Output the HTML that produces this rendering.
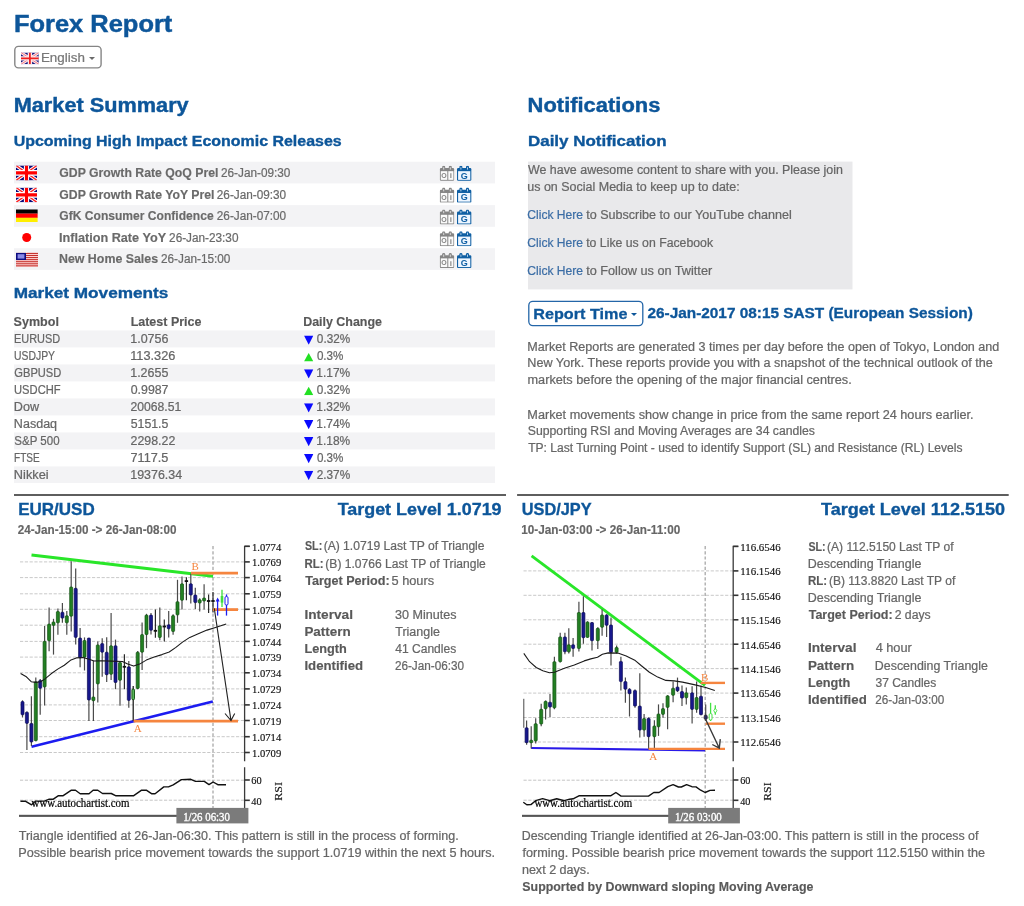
<!DOCTYPE html>
<html lang="en"><head><meta charset="utf-8"><title>Forex Report</title>
<style>
html,body{margin:0;padding:0;background:#fff}
body{width:1024px;height:906px;position:relative;overflow:hidden;font-family:"Liberation Sans", sans-serif;color:#666}
.t{position:absolute;left:0;top:0;white-space:pre;transform-origin:0 0;display:block}
.bx{position:absolute}
</style></head><body>
<svg class="bx" style="left:0;top:150px" width="1024" height="360" viewBox="0 150 1024 360"><rect x="14" y="161.7" width="481" height="21.7" fill="#f3f3f5"/><rect x="14" y="205.1" width="481" height="21.7" fill="#f3f3f5"/><rect x="14" y="248.2" width="481" height="21.7" fill="#f3f3f5"/><rect x="14" y="330.4" width="481" height="17" fill="#f3f3f5"/><rect x="14" y="364.4" width="481" height="17" fill="#f3f3f5"/><rect x="14" y="398.4" width="481" height="17" fill="#f3f3f5"/><rect x="14" y="432.4" width="481" height="17" fill="#f3f3f5"/><rect x="14" y="466.4" width="481" height="16.6" fill="#f3f3f5"/><rect x="528" y="161.6" width="324.5" height="127.8" fill="#e9e9eb"/><rect x="14" y="494" width="492" height="2" fill="#5e5e5e"/><rect x="517.1" y="494" width="491.6" height="2" fill="#5e5e5e"/></svg>
<!-- language button -->
<svg class="bx" style="left:10px;top:42px" width="100" height="30" viewBox="10 42 100 30"><rect x="14.8" y="46.4" width="86.3" height="21.5" rx="3.6" fill="#fff" stroke="#858585" stroke-width="1.4"/></svg>
<div class="bx" style="left:88.5px;top:56.7px;width:0;height:0;border-left:3.1px solid transparent;border-right:3.1px solid transparent;border-top:3.5px solid #6a6a6a"></div>
<!-- report time button -->
<svg class="bx" style="left:520px;top:296px" width="130" height="36" viewBox="520 296 130 36"><rect x="528.8" y="301.4" width="114" height="24.2" rx="4" fill="#fff" stroke="#2466a8" stroke-width="1.3"/></svg>
<div class="bx" style="left:631.2px;top:313.2px;width:0;height:0;border-left:3.7px solid transparent;border-right:3.7px solid transparent;border-top:3.8px solid #0d569a"></div>
<div class="t" style="font-size:24px;line-height:27px;color:#0d569a;font-weight:700;-webkit-text-stroke:0.45px #0d569a;transform:translate(13.88px,10px) scaleX(1.0608);">Forex Report</div>
<div class="t" style="font-size:13px;line-height:15px;color:#777;-webkit-text-stroke:0.22px #777;transform:translate(40.90px,50px) scaleX(1.0307);">English</div>
<div class="t" style="font-size:19.5px;line-height:22px;color:#0d569a;font-weight:700;-webkit-text-stroke:0.4px #0d569a;transform:translate(13.69px,94px) scaleX(1.1136);">Market Summary</div>
<div class="t" style="font-size:15px;line-height:17px;color:#0d569a;font-weight:700;-webkit-text-stroke:0.35px #0d569a;transform:translate(13.67px,132px) scaleX(1.0634);">Upcoming High Impact Economic Releases</div>
<div class="t" style="font-size:12px;line-height:14px;color:#6a6a6a;font-weight:700;-webkit-text-stroke:0.15px #6a6a6a;transform:translate(59.29px,166px) scaleX(1.0214);">GDP Growth Rate QoQ Prel</div>
<div class="t" style="font-size:12px;line-height:14px;color:#6a6a6a;-webkit-text-stroke:0.22px #6a6a6a;transform:translate(220.99px,166px) scaleX(0.9810);">26-Jan-09:30</div>
<div class="t" style="font-size:12px;line-height:14px;color:#6a6a6a;font-weight:700;-webkit-text-stroke:0.15px #6a6a6a;transform:translate(59.29px,188px) scaleX(1.0219);">GDP Growth Rate YoY Prel</div>
<div class="t" style="font-size:12px;line-height:14px;color:#6a6a6a;-webkit-text-stroke:0.22px #6a6a6a;transform:translate(216.79px,188px) scaleX(0.9810);">26-Jan-09:30</div>
<div class="t" style="font-size:12px;line-height:14px;color:#6a6a6a;font-weight:700;-webkit-text-stroke:0.15px #6a6a6a;transform:translate(59.30px,209px) scaleX(1.0063);">GfK Consumer Confidence</div>
<div class="t" style="font-size:12px;line-height:14px;color:#6a6a6a;-webkit-text-stroke:0.22px #6a6a6a;transform:translate(216.79px,209px) scaleX(0.9810);">26-Jan-07:00</div>
<div class="t" style="font-size:12px;line-height:14px;color:#6a6a6a;font-weight:700;-webkit-text-stroke:0.15px #6a6a6a;transform:translate(58.94px,231px) scaleX(1.0551);">Inflation Rate YoY</div>
<div class="t" style="font-size:12px;line-height:14px;color:#6a6a6a;-webkit-text-stroke:0.22px #6a6a6a;transform:translate(169.09px,231px) scaleX(0.9810);">26-Jan-23:30</div>
<div class="t" style="font-size:12px;line-height:14px;color:#6a6a6a;font-weight:700;-webkit-text-stroke:0.15px #6a6a6a;transform:translate(58.96px,252px) scaleX(1.0322);">New Home Sales</div>
<div class="t" style="font-size:12px;line-height:14px;color:#6a6a6a;-webkit-text-stroke:0.22px #6a6a6a;transform:translate(160.99px,252px) scaleX(0.9810);">26-Jan-15:00</div>
<div class="t" style="font-size:15px;line-height:17px;color:#0d569a;font-weight:700;-webkit-text-stroke:0.35px #0d569a;transform:translate(13.65px,284px) scaleX(1.1451);">Market Movements</div>
<div class="t" style="font-size:12px;line-height:14px;color:#595959;font-weight:700;-webkit-text-stroke:0.15px #595959;transform:translate(13.61px,315px) scaleX(1.0445);">Symbol</div>
<div class="t" style="font-size:12px;line-height:14px;color:#595959;font-weight:700;-webkit-text-stroke:0.15px #595959;transform:translate(130.65px,315px) scaleX(1.0402);">Latest Price</div>
<div class="t" style="font-size:12px;line-height:14px;color:#595959;font-weight:700;-webkit-text-stroke:0.15px #595959;transform:translate(303.16px,315px) scaleX(1.0359);">Daily Change</div>
<div class="t" style="font-size:12px;line-height:14px;color:#666;-webkit-text-stroke:0.22px #666;transform:translate(13.99px,332px) scaleX(0.9120);">EURUSD</div>
<div class="t" style="font-size:12px;line-height:14px;color:#666;-webkit-text-stroke:0.22px #666;transform:translate(130.22px,332px) scaleX(1.0401);">1.0756</div>
<div class="t" style="font-size:12px;line-height:14px;color:#666;-webkit-text-stroke:0.22px #666;transform:translate(316.87px,332px) scaleX(0.9793);">0.32%</div>
<div class="t" style="font-size:12px;line-height:14px;color:#666;-webkit-text-stroke:0.22px #666;transform:translate(14.09px,349px) scaleX(0.8650);">USDJPY</div>
<div class="t" style="font-size:12px;line-height:14px;color:#666;-webkit-text-stroke:0.22px #666;transform:translate(130.20px,349px) scaleX(1.0634);">113.326</div>
<div class="t" style="font-size:12px;line-height:14px;color:#666;-webkit-text-stroke:0.22px #666;transform:translate(316.88px,349px) scaleX(0.9698);">0.3%</div>
<div class="t" style="font-size:12px;line-height:14px;color:#666;-webkit-text-stroke:0.22px #666;transform:translate(14.32px,366px) scaleX(0.9273);">GBPUSD</div>
<div class="t" style="font-size:12px;line-height:14px;color:#666;-webkit-text-stroke:0.22px #666;transform:translate(130.23px,366px) scaleX(1.0383);">1.2655</div>
<div class="t" style="font-size:12px;line-height:14px;color:#666;-webkit-text-stroke:0.22px #666;transform:translate(316.37px,366px) scaleX(0.9943);">1.17%</div>
<div class="t" style="font-size:12px;line-height:14px;color:#666;-webkit-text-stroke:0.22px #666;transform:translate(14.03px,383px) scaleX(0.9316);">USDCHF</div>
<div class="t" style="font-size:12px;line-height:14px;color:#666;-webkit-text-stroke:0.22px #666;transform:translate(130.75px,383px) scaleX(1.0274);">0.9987</div>
<div class="t" style="font-size:12px;line-height:14px;color:#666;-webkit-text-stroke:0.22px #666;transform:translate(316.87px,383px) scaleX(0.9793);">0.32%</div>
<div class="t" style="font-size:12px;line-height:14px;color:#666;-webkit-text-stroke:0.22px #666;transform:translate(13.85px,400px) scaleX(1.0522);">Dow</div>
<div class="t" style="font-size:12px;line-height:14px;color:#666;-webkit-text-stroke:0.22px #666;transform:translate(130.57px,400px) scaleX(1.0128);">20068.51</div>
<div class="t" style="font-size:12px;line-height:14px;color:#666;-webkit-text-stroke:0.22px #666;transform:translate(316.37px,400px) scaleX(0.9943);">1.32%</div>
<div class="t" style="font-size:12px;line-height:14px;color:#666;-webkit-text-stroke:0.22px #666;transform:translate(13.86px,417px) scaleX(1.0448);">Nasdaq</div>
<div class="t" style="font-size:12px;line-height:14px;color:#666;-webkit-text-stroke:0.22px #666;transform:translate(130.69px,417px) scaleX(1.0256);">5151.5</div>
<div class="t" style="font-size:12px;line-height:14px;color:#666;-webkit-text-stroke:0.22px #666;transform:translate(316.37px,417px) scaleX(0.9943);">1.74%</div>
<div class="t" style="font-size:12px;line-height:14px;color:#666;-webkit-text-stroke:0.22px #666;transform:translate(14.36px,434px) scaleX(0.9583);">S&amp;P 500</div>
<div class="t" style="font-size:12px;line-height:14px;color:#666;-webkit-text-stroke:0.22px #666;transform:translate(130.56px,434px) scaleX(1.0303);">2298.22</div>
<div class="t" style="font-size:12px;line-height:14px;color:#666;-webkit-text-stroke:0.22px #666;transform:translate(316.37px,434px) scaleX(0.9943);">1.18%</div>
<div class="t" style="font-size:12px;line-height:14px;color:#666;-webkit-text-stroke:0.22px #666;transform:translate(14.06px,451px) scaleX(0.8360);">FTSE</div>
<div class="t" style="font-size:12px;line-height:14px;color:#666;-webkit-text-stroke:0.22px #666;transform:translate(130.54px,451px) scaleX(1.0551);">7117.5</div>
<div class="t" style="font-size:12px;line-height:14px;color:#666;-webkit-text-stroke:0.22px #666;transform:translate(316.88px,451px) scaleX(0.9698);">0.3%</div>
<div class="t" style="font-size:12px;line-height:14px;color:#666;-webkit-text-stroke:0.22px #666;transform:translate(13.84px,468px) scaleX(1.0623);">Nikkei</div>
<div class="t" style="font-size:12px;line-height:14px;color:#666;-webkit-text-stroke:0.22px #666;transform:translate(130.23px,468px) scaleX(1.0359);">19376.34</div>
<div class="t" style="font-size:12px;line-height:14px;color:#666;-webkit-text-stroke:0.22px #666;transform:translate(316.68px,468px) scaleX(0.9848);">2.37%</div>
<div class="t" style="font-size:19.5px;line-height:22px;color:#0d569a;font-weight:700;-webkit-text-stroke:0.4px #0d569a;transform:translate(527.62px,94px) scaleX(1.1241);">Notifications</div>
<div class="t" style="font-size:15px;line-height:17px;color:#0d569a;font-weight:700;-webkit-text-stroke:0.35px #0d569a;transform:translate(527.97px,132px) scaleX(1.1308);">Daily Notification</div>
<div class="t" style="font-size:12px;line-height:14px;color:#666;-webkit-text-stroke:0.22px #666;transform:translate(527.94px,163px) scaleX(1.0361);">We have awesome content to share with you. Please join</div>
<div class="t" style="font-size:12px;line-height:14px;color:#666;-webkit-text-stroke:0.22px #666;transform:translate(527.22px,180px) scaleX(1.0410);">us on Social Media to keep up to date:</div>
<div class="t" style="font-size:12px;line-height:14px;color:#3c6ea6;-webkit-text-stroke:0.22px #3c6ea6;transform:translate(527.37px,208px) scaleX(1.0058);">Click Here</div>
<div class="t" style="font-size:12px;line-height:14px;color:#666;-webkit-text-stroke:0.22px #666;transform:translate(586.20px,208px) scaleX(1.0472);">to Subscribe to our YouTube channel</div>
<div class="t" style="font-size:12px;line-height:14px;color:#3c6ea6;-webkit-text-stroke:0.22px #3c6ea6;transform:translate(527.37px,236px) scaleX(1.0058);">Click Here</div>
<div class="t" style="font-size:12px;line-height:14px;color:#666;-webkit-text-stroke:0.22px #666;transform:translate(586.21px,236px) scaleX(1.0220);">to Like us on Facebook</div>
<div class="t" style="font-size:12px;line-height:14px;color:#3c6ea6;-webkit-text-stroke:0.22px #3c6ea6;transform:translate(527.37px,264px) scaleX(1.0058);">Click Here</div>
<div class="t" style="font-size:12px;line-height:14px;color:#666;-webkit-text-stroke:0.22px #666;transform:translate(586.20px,264px) scaleX(1.0571);">to Follow us on Twitter</div>
<div class="t" style="font-size:15px;line-height:17px;color:#0d569a;font-weight:700;-webkit-text-stroke:0.3px #0d569a;transform:translate(533.22px,305px) scaleX(1.0795);">Report Time</div>
<div class="t" style="font-size:14.5px;line-height:16px;color:#0d569a;font-weight:700;-webkit-text-stroke:0.3px #0d569a;transform:translate(647.47px,305px) scaleX(1.0595);">26-Jan-2017 08:15 SAST (European Session)</div>
<div class="t" style="font-size:12px;line-height:14px;color:#666;-webkit-text-stroke:0.22px #666;transform:translate(527.35px,340px) scaleX(1.0471);">Market Reports are generated 3 times per day before the open of Tokyo, London and</div>
<div class="t" style="font-size:12px;line-height:14px;color:#666;-webkit-text-stroke:0.22px #666;transform:translate(527.35px,356px) scaleX(1.0515);">New York. These reports provide you with a snapshot of the technical outlook of the</div>
<div class="t" style="font-size:12px;line-height:14px;color:#666;-webkit-text-stroke:0.22px #666;transform:translate(527.54px,373px) scaleX(1.0587);">markets before the opening of the major financial centres.</div>
<div class="t" style="font-size:12px;line-height:14px;color:#666;-webkit-text-stroke:0.22px #666;transform:translate(527.34px,408px) scaleX(1.0571);">Market movements show change in price from the same report 24 hours earlier.</div>
<div class="t" style="font-size:12px;line-height:14px;color:#666;-webkit-text-stroke:0.22px #666;transform:translate(527.83px,424px) scaleX(1.0184);">Supporting RSI and Moving Averages are 34 candles</div>
<div class="t" style="font-size:12px;line-height:14px;color:#666;-webkit-text-stroke:0.22px #666;transform:translate(528.15px,441px) scaleX(1.0049);">TP: Last Turning Point - used to identify Support (SL) and Resistance (RL) Levels</div>
<div class="t" style="font-size:17px;line-height:19px;color:#0d569a;font-weight:700;-webkit-text-stroke:0.35px #0d569a;transform:translate(18.17px,500px) scaleX(1.0002);">EUR/USD</div>
<div class="t" style="font-size:17px;line-height:19px;color:#0d569a;font-weight:700;-webkit-text-stroke:0.35px #0d569a;transform:translate(337.70px,500px) scaleX(1.0529);">Target Level 1.0719</div>
<div class="t" style="font-size:12px;line-height:14px;color:#666;font-weight:700;-webkit-text-stroke:0.15px #666;transform:translate(17.67px,523px) scaleX(0.9736);">24-Jan-15:00 -&gt; 26-Jan-08:00</div>
<div class="t" style="font-size:12px;line-height:14px;color:#595959;font-weight:700;-webkit-text-stroke:0.15px #595959;transform:translate(304.97px,539px) scaleX(0.8926);">SL:</div>
<div class="t" style="font-size:12px;line-height:14px;color:#666;-webkit-text-stroke:0.22px #666;transform:translate(323.64px,539px) scaleX(1.0077);">(A) 1.0719 Last TP of Triangle</div>
<div class="t" style="font-size:12px;line-height:14px;color:#595959;font-weight:700;-webkit-text-stroke:0.15px #595959;transform:translate(304.53px,557px) scaleX(0.9522);">RL:</div>
<div class="t" style="font-size:12px;line-height:14px;color:#666;-webkit-text-stroke:0.22px #666;transform:translate(325.35px,557px) scaleX(1.0052);">(B) 1.0766 Last TP of Triangle</div>
<div class="t" style="font-size:12px;line-height:14px;color:#595959;font-weight:700;-webkit-text-stroke:0.15px #595959;transform:translate(305.17px,574px) scaleX(1.0494);">Target Period:</div>
<div class="t" style="font-size:12px;line-height:14px;color:#666;-webkit-text-stroke:0.22px #666;transform:translate(391.47px,574px) scaleX(1.0650);">5 hours</div>
<div class="t" style="font-size:12px;line-height:14px;color:#595959;font-weight:700;-webkit-text-stroke:0.15px #595959;transform:translate(304.38px,608px) scaleX(1.1373);">Interval</div>
<div class="t" style="font-size:12px;line-height:14px;color:#666;-webkit-text-stroke:0.22px #666;transform:translate(395.04px,608px) scaleX(1.0465);">30 Minutes</div>
<div class="t" style="font-size:12px;line-height:14px;color:#595959;font-weight:700;-webkit-text-stroke:0.15px #595959;transform:translate(304.39px,625px) scaleX(1.1195);">Pattern</div>
<div class="t" style="font-size:12px;line-height:14px;color:#666;-webkit-text-stroke:0.22px #666;transform:translate(395.24px,625px) scaleX(1.0421);">Triangle</div>
<div class="t" style="font-size:12px;line-height:14px;color:#595959;font-weight:700;-webkit-text-stroke:0.15px #595959;transform:translate(304.44px,642px) scaleX(1.0589);">Length</div>
<div class="t" style="font-size:12px;line-height:14px;color:#666;-webkit-text-stroke:0.22px #666;transform:translate(395.25px,642px) scaleX(1.0033);">41 Candles</div>
<div class="t" style="font-size:12px;line-height:14px;color:#595959;font-weight:700;-webkit-text-stroke:0.15px #595959;transform:translate(304.41px,659px) scaleX(1.0995);">Identified</div>
<div class="t" style="font-size:12px;line-height:14px;color:#666;-webkit-text-stroke:0.22px #666;transform:translate(394.89px,659px) scaleX(0.9781);">26-Jan-06:30</div>
<div class="t" style="font-size:12px;line-height:14px;color:#666;-webkit-text-stroke:0.22px #666;transform:translate(18.74px,829px) scaleX(1.0419);">Triangle identified at 26-Jan-06:30. This pattern is still in the process of forming.</div>
<div class="t" style="font-size:12px;line-height:14px;color:#666;-webkit-text-stroke:0.22px #666;transform:translate(18.25px,846px) scaleX(1.0544);">Possible bearish price movement towards the support 1.0719 within the next 5 hours.</div>
<div class="t" style="font-size:17px;line-height:19px;color:#0d569a;font-weight:700;-webkit-text-stroke:0.35px #0d569a;transform:translate(521.74px,500px) scaleX(0.9594);">USD/JPY</div>
<div class="t" style="font-size:17px;line-height:19px;color:#0d569a;font-weight:700;-webkit-text-stroke:0.35px #0d569a;transform:translate(821.00px,500px) scaleX(1.0603);">Target Level 112.5150</div>
<div class="t" style="font-size:12px;line-height:14px;color:#666;font-weight:700;-webkit-text-stroke:0.15px #666;transform:translate(521.27px,523px) scaleX(0.9784);">10-Jan-03:00 -&gt; 26-Jan-11:00</div>
<div class="t" style="font-size:12px;line-height:14px;color:#595959;font-weight:700;-webkit-text-stroke:0.15px #595959;transform:translate(808.47px,540px) scaleX(0.8870);">SL:</div>
<div class="t" style="font-size:12px;line-height:14px;color:#666;-webkit-text-stroke:0.22px #666;transform:translate(827.05px,540px) scaleX(1.0034);">(A) 112.5150 Last TP of</div>
<div class="t" style="font-size:12px;line-height:14px;color:#666;-webkit-text-stroke:0.22px #666;transform:translate(807.76px,557px) scaleX(1.0382);">Descending Triangle</div>
<div class="t" style="font-size:12px;line-height:14px;color:#595959;font-weight:700;-webkit-text-stroke:0.15px #595959;transform:translate(808.02px,574px) scaleX(0.9578);">RL:</div>
<div class="t" style="font-size:12px;line-height:14px;color:#666;-webkit-text-stroke:0.22px #666;transform:translate(828.95px,574px) scaleX(1.0018);">(B) 113.8820 Last TP of</div>
<div class="t" style="font-size:12px;line-height:14px;color:#666;-webkit-text-stroke:0.22px #666;transform:translate(807.76px,591px) scaleX(1.0382);">Descending Triangle</div>
<div class="t" style="font-size:12px;line-height:14px;color:#595959;font-weight:700;-webkit-text-stroke:0.15px #595959;transform:translate(808.67px,608px) scaleX(1.0431);">Target Period:</div>
<div class="t" style="font-size:12px;line-height:14px;color:#666;-webkit-text-stroke:0.22px #666;transform:translate(894.66px,608px) scaleX(1.0200);">2 days</div>
<div class="t" style="font-size:12px;line-height:14px;color:#595959;font-weight:700;-webkit-text-stroke:0.15px #595959;transform:translate(807.88px,641px) scaleX(1.1373);">Interval</div>
<div class="t" style="font-size:12px;line-height:14px;color:#666;-webkit-text-stroke:0.22px #666;transform:translate(875.63px,641px) scaleX(1.0637);">4 hour</div>
<div class="t" style="font-size:12px;line-height:14px;color:#595959;font-weight:700;-webkit-text-stroke:0.15px #595959;transform:translate(807.89px,659px) scaleX(1.1195);">Pattern</div>
<div class="t" style="font-size:12px;line-height:14px;color:#666;-webkit-text-stroke:0.22px #666;transform:translate(874.87px,659px) scaleX(1.0327);">Descending Triangle</div>
<div class="t" style="font-size:12px;line-height:14px;color:#595959;font-weight:700;-webkit-text-stroke:0.15px #595959;transform:translate(807.94px,676px) scaleX(1.0589);">Length</div>
<div class="t" style="font-size:12px;line-height:14px;color:#666;-webkit-text-stroke:0.22px #666;transform:translate(875.46px,676px) scaleX(1.0015);">37 Candles</div>
<div class="t" style="font-size:12px;line-height:14px;color:#595959;font-weight:700;-webkit-text-stroke:0.15px #595959;transform:translate(807.90px,693px) scaleX(1.1034);">Identified</div>
<div class="t" style="font-size:12px;line-height:14px;color:#666;-webkit-text-stroke:0.22px #666;transform:translate(875.29px,693px) scaleX(0.9767);">26-Jan-03:00</div>
<div class="t" style="font-size:12px;line-height:14px;color:#666;-webkit-text-stroke:0.22px #666;transform:translate(521.72px,829px) scaleX(1.0333);">Descending Triangle identified at 26-Jan-03:00. This pattern is still in the process of</div>
<div class="t" style="font-size:12px;line-height:14px;color:#666;-webkit-text-stroke:0.22px #666;transform:translate(522.55px,846px) scaleX(1.0544);">forming. Possible bearish price movement towards the support 112.5150 within the</div>
<div class="t" style="font-size:12px;line-height:14px;color:#666;-webkit-text-stroke:0.22px #666;transform:translate(521.90px,863px) scaleX(1.0468);">next 2 days.</div>
<div class="t" style="font-size:12px;line-height:14px;color:#595959;font-weight:700;-webkit-text-stroke:0.15px #595959;transform:translate(522.36px,880px) scaleX(1.0304);">Supported by Downward sloping Moving Average</div>
<svg class="bx" style="left:0;top:40px" width="512" height="460" viewBox="0 40 512 460">
<!-- flags -->
<svg x="21" y="52.5" width="17.8" height="11.8" viewBox="0 0 60 40" preserveAspectRatio="none"><rect width="60" height="40" fill="#1a1a80"/><path d="M0,0 L60,40 M60,0 L0,40" stroke="#fbe4e8" stroke-width="10"/><path d="M0,0 L60,40 M60,0 L0,40" stroke="#f2707a" stroke-width="3"/><path d="M30,0 V40 M0,20 H60" stroke="#fde8ea" stroke-width="15"/><path d="M30,0 V40 M0,20 H60" stroke="#f02020" stroke-width="6"/></svg>
<svg x="16" y="165.4" width="21" height="15" viewBox="0 0 60 40" preserveAspectRatio="none"><defs><clipPath id="ukc165"><rect width="60" height="40" rx="3"/></clipPath></defs><g clip-path="url(#ukc165)"><rect width="60" height="40" fill="#0a0a7a"/><path d="M0,0 L60,40 M60,0 L0,40" stroke="#fff" stroke-width="9"/><path d="M0,0 L60,40 M60,0 L0,40" stroke="#f22" stroke-width="3.5"/><path d="M30,0 V40 M0,20 H60" stroke="#fff" stroke-width="15"/><path d="M30,0 V40 M0,20 H60" stroke="#f00" stroke-width="9"/></g></svg>
<svg x="16" y="187.4" width="21" height="15" viewBox="0 0 60 40" preserveAspectRatio="none"><defs><clipPath id="ukc187"><rect width="60" height="40" rx="3"/></clipPath></defs><g clip-path="url(#ukc187)"><rect width="60" height="40" fill="#0a0a7a"/><path d="M0,0 L60,40 M60,0 L0,40" stroke="#fff" stroke-width="9"/><path d="M0,0 L60,40 M60,0 L0,40" stroke="#f22" stroke-width="3.5"/><path d="M30,0 V40 M0,20 H60" stroke="#fff" stroke-width="15"/><path d="M30,0 V40 M0,20 H60" stroke="#f00" stroke-width="9"/></g></svg>
<svg x="16" y="209.3" width="21.8" height="12.8" viewBox="0 0 21.8 12.8"><rect width="21.8" height="4.4" fill="#000"/><rect y="4.3" width="21.8" height="4.3" fill="#f00"/><rect y="8.5" width="21.8" height="4.3" fill="#ffee00"/></svg>
<svg x="16" y="230" width="22" height="15" viewBox="0 0 22 15"><circle cx="10.7" cy="7.5" r="4.5" fill="#f00"/></svg>
<svg x="16" y="251.9" width="22" height="15.4" viewBox="0 0 22 15.4"><rect y="0.8" width="22" height="14.3" fill="#ffd6d6"/><rect width="11" height="1" y="0" fill="#fff"/><rect y="1.00" width="22" height="1.05" fill="#c4302b"/><rect y="3.07" width="22" height="1.05" fill="#c4302b"/><rect y="5.14" width="22" height="1.05" fill="#c4302b"/><rect y="7.21" width="22" height="1.05" fill="#c4302b"/><rect y="9.28" width="22" height="1.05" fill="#c4302b"/><rect y="11.35" width="22" height="1.05" fill="#c4302b"/><rect y="13.42" width="22" height="1.05" fill="#c4302b"/><rect y="1" width="10" height="7.1" fill="#0c0c80"/><rect x="1.6" y="2.3" width="6.8" height="4.4" fill="#8a8ae6"/></svg>
<!-- calendar icons -->
<svg x="439.6" y="165.8" width="15" height="15.1" viewBox="0 0 15 16" preserveAspectRatio="none"><rect x="2.6" y="0" width="3" height="4.5" rx="1.4" fill="#858585"/><rect x="9.2" y="0" width="3" height="4.5" rx="1.4" fill="#858585"/><rect x="0.2" y="2.3" width="14.4" height="13.6" rx="1.3" fill="#858585"/><rect x="3.6" y="1.6" width="1" height="2.4" fill="#fafafa" opacity="0.75"/><rect x="10.2" y="1.6" width="1" height="2.4" fill="#fafafa" opacity="0.75"/><rect x="1.2" y="5.7" width="6.5" height="9.2" fill="#fafafa"/><rect x="8.7" y="5.7" width="5.1" height="9.2" fill="#fafafa"/><text x="4.5" y="13" font-family="Liberation Sans, sans-serif" font-size="7" font-weight="700" text-anchor="middle" fill="#858585">O</text><text x="11.2" y="13.3" font-family="Liberation Sans, sans-serif" font-size="8" font-weight="700" text-anchor="middle" fill="#858585">i</text></svg>
<svg x="456.8" y="165.8" width="15" height="15.1" viewBox="0 0 15 16" preserveAspectRatio="none"><rect x="2.6" y="0" width="3" height="4.5" rx="1.4" fill="#0f5fa3"/><rect x="9.2" y="0" width="3" height="4.5" rx="1.4" fill="#0f5fa3"/><rect x="0.2" y="2.3" width="14.4" height="13.6" rx="1.3" fill="#0f5fa3"/><rect x="3.6" y="1.6" width="1" height="2.4" fill="#eef6ff" opacity="0.75"/><rect x="10.2" y="1.6" width="1" height="2.4" fill="#eef6ff" opacity="0.75"/><rect x="1.3" y="5.7" width="12.2" height="9.2" fill="#eef6ff"/><text x="7.4" y="13.6" font-family="Liberation Sans, sans-serif" font-size="9" font-weight="700" text-anchor="middle" fill="#0f5fa3">G</text></svg>
<svg x="439.6" y="187.6" width="15" height="15.1" viewBox="0 0 15 16" preserveAspectRatio="none"><rect x="2.6" y="0" width="3" height="4.5" rx="1.4" fill="#858585"/><rect x="9.2" y="0" width="3" height="4.5" rx="1.4" fill="#858585"/><rect x="0.2" y="2.3" width="14.4" height="13.6" rx="1.3" fill="#858585"/><rect x="3.6" y="1.6" width="1" height="2.4" fill="#fafafa" opacity="0.75"/><rect x="10.2" y="1.6" width="1" height="2.4" fill="#fafafa" opacity="0.75"/><rect x="1.2" y="5.7" width="6.5" height="9.2" fill="#fafafa"/><rect x="8.7" y="5.7" width="5.1" height="9.2" fill="#fafafa"/><text x="4.5" y="13" font-family="Liberation Sans, sans-serif" font-size="7" font-weight="700" text-anchor="middle" fill="#858585">O</text><text x="11.2" y="13.3" font-family="Liberation Sans, sans-serif" font-size="8" font-weight="700" text-anchor="middle" fill="#858585">i</text></svg>
<svg x="456.8" y="187.6" width="15" height="15.1" viewBox="0 0 15 16" preserveAspectRatio="none"><rect x="2.6" y="0" width="3" height="4.5" rx="1.4" fill="#0f5fa3"/><rect x="9.2" y="0" width="3" height="4.5" rx="1.4" fill="#0f5fa3"/><rect x="0.2" y="2.3" width="14.4" height="13.6" rx="1.3" fill="#0f5fa3"/><rect x="3.6" y="1.6" width="1" height="2.4" fill="#eef6ff" opacity="0.75"/><rect x="10.2" y="1.6" width="1" height="2.4" fill="#eef6ff" opacity="0.75"/><rect x="1.3" y="5.7" width="12.2" height="9.2" fill="#eef6ff"/><text x="7.4" y="13.6" font-family="Liberation Sans, sans-serif" font-size="9" font-weight="700" text-anchor="middle" fill="#0f5fa3">G</text></svg>
<svg x="439.6" y="209.4" width="15" height="15.1" viewBox="0 0 15 16" preserveAspectRatio="none"><rect x="2.6" y="0" width="3" height="4.5" rx="1.4" fill="#858585"/><rect x="9.2" y="0" width="3" height="4.5" rx="1.4" fill="#858585"/><rect x="0.2" y="2.3" width="14.4" height="13.6" rx="1.3" fill="#858585"/><rect x="3.6" y="1.6" width="1" height="2.4" fill="#fafafa" opacity="0.75"/><rect x="10.2" y="1.6" width="1" height="2.4" fill="#fafafa" opacity="0.75"/><rect x="1.2" y="5.7" width="6.5" height="9.2" fill="#fafafa"/><rect x="8.7" y="5.7" width="5.1" height="9.2" fill="#fafafa"/><text x="4.5" y="13" font-family="Liberation Sans, sans-serif" font-size="7" font-weight="700" text-anchor="middle" fill="#858585">O</text><text x="11.2" y="13.3" font-family="Liberation Sans, sans-serif" font-size="8" font-weight="700" text-anchor="middle" fill="#858585">i</text></svg>
<svg x="456.8" y="209.4" width="15" height="15.1" viewBox="0 0 15 16" preserveAspectRatio="none"><rect x="2.6" y="0" width="3" height="4.5" rx="1.4" fill="#0f5fa3"/><rect x="9.2" y="0" width="3" height="4.5" rx="1.4" fill="#0f5fa3"/><rect x="0.2" y="2.3" width="14.4" height="13.6" rx="1.3" fill="#0f5fa3"/><rect x="3.6" y="1.6" width="1" height="2.4" fill="#eef6ff" opacity="0.75"/><rect x="10.2" y="1.6" width="1" height="2.4" fill="#eef6ff" opacity="0.75"/><rect x="1.3" y="5.7" width="12.2" height="9.2" fill="#eef6ff"/><text x="7.4" y="13.6" font-family="Liberation Sans, sans-serif" font-size="9" font-weight="700" text-anchor="middle" fill="#0f5fa3">G</text></svg>
<svg x="439.6" y="231.2" width="15" height="15.1" viewBox="0 0 15 16" preserveAspectRatio="none"><rect x="2.6" y="0" width="3" height="4.5" rx="1.4" fill="#858585"/><rect x="9.2" y="0" width="3" height="4.5" rx="1.4" fill="#858585"/><rect x="0.2" y="2.3" width="14.4" height="13.6" rx="1.3" fill="#858585"/><rect x="3.6" y="1.6" width="1" height="2.4" fill="#fafafa" opacity="0.75"/><rect x="10.2" y="1.6" width="1" height="2.4" fill="#fafafa" opacity="0.75"/><rect x="1.2" y="5.7" width="6.5" height="9.2" fill="#fafafa"/><rect x="8.7" y="5.7" width="5.1" height="9.2" fill="#fafafa"/><text x="4.5" y="13" font-family="Liberation Sans, sans-serif" font-size="7" font-weight="700" text-anchor="middle" fill="#858585">O</text><text x="11.2" y="13.3" font-family="Liberation Sans, sans-serif" font-size="8" font-weight="700" text-anchor="middle" fill="#858585">i</text></svg>
<svg x="456.8" y="231.2" width="15" height="15.1" viewBox="0 0 15 16" preserveAspectRatio="none"><rect x="2.6" y="0" width="3" height="4.5" rx="1.4" fill="#0f5fa3"/><rect x="9.2" y="0" width="3" height="4.5" rx="1.4" fill="#0f5fa3"/><rect x="0.2" y="2.3" width="14.4" height="13.6" rx="1.3" fill="#0f5fa3"/><rect x="3.6" y="1.6" width="1" height="2.4" fill="#eef6ff" opacity="0.75"/><rect x="10.2" y="1.6" width="1" height="2.4" fill="#eef6ff" opacity="0.75"/><rect x="1.3" y="5.7" width="12.2" height="9.2" fill="#eef6ff"/><text x="7.4" y="13.6" font-family="Liberation Sans, sans-serif" font-size="9" font-weight="700" text-anchor="middle" fill="#0f5fa3">G</text></svg>
<svg x="439.6" y="253.0" width="15" height="15.1" viewBox="0 0 15 16" preserveAspectRatio="none"><rect x="2.6" y="0" width="3" height="4.5" rx="1.4" fill="#858585"/><rect x="9.2" y="0" width="3" height="4.5" rx="1.4" fill="#858585"/><rect x="0.2" y="2.3" width="14.4" height="13.6" rx="1.3" fill="#858585"/><rect x="3.6" y="1.6" width="1" height="2.4" fill="#fafafa" opacity="0.75"/><rect x="10.2" y="1.6" width="1" height="2.4" fill="#fafafa" opacity="0.75"/><rect x="1.2" y="5.7" width="6.5" height="9.2" fill="#fafafa"/><rect x="8.7" y="5.7" width="5.1" height="9.2" fill="#fafafa"/><text x="4.5" y="13" font-family="Liberation Sans, sans-serif" font-size="7" font-weight="700" text-anchor="middle" fill="#858585">O</text><text x="11.2" y="13.3" font-family="Liberation Sans, sans-serif" font-size="8" font-weight="700" text-anchor="middle" fill="#858585">i</text></svg>
<svg x="456.8" y="253.0" width="15" height="15.1" viewBox="0 0 15 16" preserveAspectRatio="none"><rect x="2.6" y="0" width="3" height="4.5" rx="1.4" fill="#0f5fa3"/><rect x="9.2" y="0" width="3" height="4.5" rx="1.4" fill="#0f5fa3"/><rect x="0.2" y="2.3" width="14.4" height="13.6" rx="1.3" fill="#0f5fa3"/><rect x="3.6" y="1.6" width="1" height="2.4" fill="#eef6ff" opacity="0.75"/><rect x="10.2" y="1.6" width="1" height="2.4" fill="#eef6ff" opacity="0.75"/><rect x="1.3" y="5.7" width="12.2" height="9.2" fill="#eef6ff"/><text x="7.4" y="13.6" font-family="Liberation Sans, sans-serif" font-size="9" font-weight="700" text-anchor="middle" fill="#0f5fa3">G</text></svg>
<!-- change arrows -->
<svg x="304" y="335.50" width="9.4" height="9.2" viewBox="0 0 9.4 9.2"><path d="M0,0 H9.4 L4.7,9.2 Z" fill="#0a0aff"/></svg>
<svg x="304" y="352.92" width="9.4" height="8.6" viewBox="0 0 9.4 8.6"><path d="M0,8.6 H9.4 L4.7,0 Z" fill="#22e022"/></svg>
<svg x="304" y="369.34" width="9.4" height="9.2" viewBox="0 0 9.4 9.2"><path d="M0,0 H9.4 L4.7,9.2 Z" fill="#0a0aff"/></svg>
<svg x="304" y="386.76" width="9.4" height="8.6" viewBox="0 0 9.4 8.6"><path d="M0,8.6 H9.4 L4.7,0 Z" fill="#22e022"/></svg>
<svg x="304" y="403.18" width="9.4" height="9.2" viewBox="0 0 9.4 9.2"><path d="M0,0 H9.4 L4.7,9.2 Z" fill="#0a0aff"/></svg>
<svg x="304" y="420.10" width="9.4" height="9.2" viewBox="0 0 9.4 9.2"><path d="M0,0 H9.4 L4.7,9.2 Z" fill="#0a0aff"/></svg>
<svg x="304" y="437.02" width="9.4" height="9.2" viewBox="0 0 9.4 9.2"><path d="M0,0 H9.4 L4.7,9.2 Z" fill="#0a0aff"/></svg>
<svg x="304" y="453.94" width="9.4" height="9.2" viewBox="0 0 9.4 9.2"><path d="M0,0 H9.4 L4.7,9.2 Z" fill="#0a0aff"/></svg>
<svg x="304" y="470.86" width="9.4" height="9.2" viewBox="0 0 9.4 9.2"><path d="M0,0 H9.4 L4.7,9.2 Z" fill="#0a0aff"/></svg>
</svg>
<svg class="bx" style="left:0;top:536px" width="300" height="292" viewBox="0 536 300 292" font-family="Liberation Serif, serif">
<line x1="20" x2="244" y1="561.9" y2="561.9" stroke="#c9c9c9" stroke-width="1" stroke-dasharray="3.2,1.6"/>
<line x1="20" x2="244" y1="577.6" y2="577.6" stroke="#c9c9c9" stroke-width="1" stroke-dasharray="3.2,1.6"/>
<line x1="20" x2="244" y1="593.8" y2="593.8" stroke="#c9c9c9" stroke-width="1" stroke-dasharray="3.2,1.6"/>
<line x1="20" x2="244" y1="609.3" y2="609.3" stroke="#c9c9c9" stroke-width="1" stroke-dasharray="3.2,1.6"/>
<line x1="20" x2="244" y1="625.2" y2="625.2" stroke="#c9c9c9" stroke-width="1" stroke-dasharray="3.2,1.6"/>
<line x1="20" x2="244" y1="641.4" y2="641.4" stroke="#c9c9c9" stroke-width="1" stroke-dasharray="3.2,1.6"/>
<line x1="20" x2="244" y1="657.1" y2="657.1" stroke="#c9c9c9" stroke-width="1" stroke-dasharray="3.2,1.6"/>
<line x1="20" x2="244" y1="672.8" y2="672.8" stroke="#c9c9c9" stroke-width="1" stroke-dasharray="3.2,1.6"/>
<line x1="20" x2="244" y1="688.9" y2="688.9" stroke="#c9c9c9" stroke-width="1" stroke-dasharray="3.2,1.6"/>
<line x1="20" x2="244" y1="704.9" y2="704.9" stroke="#c9c9c9" stroke-width="1" stroke-dasharray="3.2,1.6"/>
<line x1="20" x2="244" y1="720.5" y2="720.5" stroke="#c9c9c9" stroke-width="1" stroke-dasharray="3.2,1.6"/>
<line x1="20" x2="244" y1="736.7" y2="736.7" stroke="#c9c9c9" stroke-width="1" stroke-dasharray="3.2,1.6"/>
<line x1="20" x2="244" y1="752.5" y2="752.5" stroke="#c9c9c9" stroke-width="1" stroke-dasharray="3.2,1.6"/>
<line x1="20" x2="244" y1="780.2" y2="780.2" stroke="#c4c4c4" stroke-width="1" stroke-dasharray="3.2,1.6"/>
<line x1="20" x2="244" y1="800.2" y2="800.2" stroke="#c4c4c4" stroke-width="1" stroke-dasharray="3.2,1.6"/>
<line x1="213" x2="213" y1="546" y2="808" stroke="#a8a8a8" stroke-width="1.3" stroke-dasharray="3.2,2"/>
<path d="M249.6,546.3 H244.6 V761.3 M244.6,767.3 V808" fill="none" stroke="#3a3a3a" stroke-width="1.3"/>
<line x1="244.6" x2="249.8" y1="546.3" y2="546.3" stroke="#333" stroke-width="1.6"/>
<text x="252" y="550.6" font-size="11" fill="#111" stroke="#111" stroke-width="0.15" textLength="29.2" lengthAdjust="spacingAndGlyphs">1.0774</text>
<line x1="244.6" x2="249.8" y1="561.9" y2="561.9" stroke="#333" stroke-width="1.6"/>
<text x="252" y="566.2" font-size="11" fill="#111" stroke="#111" stroke-width="0.15" textLength="29.2" lengthAdjust="spacingAndGlyphs">1.0769</text>
<line x1="244.6" x2="249.8" y1="577.6" y2="577.6" stroke="#333" stroke-width="1.6"/>
<text x="252" y="581.9" font-size="11" fill="#111" stroke="#111" stroke-width="0.15" textLength="29.2" lengthAdjust="spacingAndGlyphs">1.0764</text>
<line x1="244.6" x2="249.8" y1="593.8" y2="593.8" stroke="#333" stroke-width="1.6"/>
<text x="252" y="598.1" font-size="11" fill="#111" stroke="#111" stroke-width="0.15" textLength="29.2" lengthAdjust="spacingAndGlyphs">1.0759</text>
<line x1="244.6" x2="249.8" y1="609.3" y2="609.3" stroke="#333" stroke-width="1.6"/>
<text x="252" y="613.6" font-size="11" fill="#111" stroke="#111" stroke-width="0.15" textLength="29.2" lengthAdjust="spacingAndGlyphs">1.0754</text>
<line x1="244.6" x2="249.8" y1="625.2" y2="625.2" stroke="#333" stroke-width="1.6"/>
<text x="252" y="629.5" font-size="11" fill="#111" stroke="#111" stroke-width="0.15" textLength="29.2" lengthAdjust="spacingAndGlyphs">1.0749</text>
<line x1="244.6" x2="249.8" y1="641.4" y2="641.4" stroke="#333" stroke-width="1.6"/>
<text x="252" y="645.7" font-size="11" fill="#111" stroke="#111" stroke-width="0.15" textLength="29.2" lengthAdjust="spacingAndGlyphs">1.0744</text>
<line x1="244.6" x2="249.8" y1="657.1" y2="657.1" stroke="#333" stroke-width="1.6"/>
<text x="252" y="661.4" font-size="11" fill="#111" stroke="#111" stroke-width="0.15" textLength="29.2" lengthAdjust="spacingAndGlyphs">1.0739</text>
<line x1="244.6" x2="249.8" y1="672.8" y2="672.8" stroke="#333" stroke-width="1.6"/>
<text x="252" y="677.1" font-size="11" fill="#111" stroke="#111" stroke-width="0.15" textLength="29.2" lengthAdjust="spacingAndGlyphs">1.0734</text>
<line x1="244.6" x2="249.8" y1="688.9" y2="688.9" stroke="#333" stroke-width="1.6"/>
<text x="252" y="693.2" font-size="11" fill="#111" stroke="#111" stroke-width="0.15" textLength="29.2" lengthAdjust="spacingAndGlyphs">1.0729</text>
<line x1="244.6" x2="249.8" y1="704.9" y2="704.9" stroke="#333" stroke-width="1.6"/>
<text x="252" y="709.2" font-size="11" fill="#111" stroke="#111" stroke-width="0.15" textLength="29.2" lengthAdjust="spacingAndGlyphs">1.0724</text>
<line x1="244.6" x2="249.8" y1="720.5" y2="720.5" stroke="#333" stroke-width="1.6"/>
<text x="252" y="724.8" font-size="11" fill="#111" stroke="#111" stroke-width="0.15" textLength="29.2" lengthAdjust="spacingAndGlyphs">1.0719</text>
<line x1="244.6" x2="249.8" y1="736.7" y2="736.7" stroke="#333" stroke-width="1.6"/>
<text x="252" y="741.0" font-size="11" fill="#111" stroke="#111" stroke-width="0.15" textLength="29.2" lengthAdjust="spacingAndGlyphs">1.0714</text>
<line x1="244.6" x2="249.8" y1="752.5" y2="752.5" stroke="#333" stroke-width="1.6"/>
<text x="252" y="756.8" font-size="11" fill="#111" stroke="#111" stroke-width="0.15" textLength="29.2" lengthAdjust="spacingAndGlyphs">1.0709</text>
<line x1="244.6" x2="249.8" y1="780" y2="780" stroke="#333" stroke-width="1.6"/>
<text x="251.2" y="784.3" font-size="11" fill="#111" stroke="#111" stroke-width="0.15" textLength="10.4" lengthAdjust="spacingAndGlyphs">60</text>
<line x1="244.6" x2="249.8" y1="800.3" y2="800.3" stroke="#333" stroke-width="1.6"/>
<text x="251.2" y="804.6" font-size="11" fill="#111" stroke="#111" stroke-width="0.15" textLength="10.4" lengthAdjust="spacingAndGlyphs">40</text>
<text transform="translate(281.6,800.8) rotate(-90)" font-size="11" fill="#111" stroke="#111" stroke-width="0.15" textLength="18.8" lengthAdjust="spacingAndGlyphs">RSI</text>
<line x1="31.5" y1="555" x2="213" y2="576.3" stroke="#29e629" stroke-width="2.9"/>
<line x1="31.5" y1="746.8" x2="212.8" y2="701.4" stroke="#1c1cf0" stroke-width="2.6"/>
<line x1="22.5" x2="22.5" y1="700.3" y2="717.5" stroke="#4a4a4a" stroke-width="1.2"/>
<rect x="21.0" y="701.6" width="3" height="13.2" rx="0.8" fill="#17178c" stroke="#0a0a55" stroke-width="0.7"/>
<line x1="26.9" x2="26.9" y1="711.5" y2="749.9" stroke="#4a4a4a" stroke-width="1.2"/>
<rect x="25.4" y="712.2" width="3" height="11.2" rx="0.8" fill="#17178c" stroke="#0a0a55" stroke-width="0.7"/>
<line x1="31.4" x2="31.4" y1="696.3" y2="746" stroke="#4a4a4a" stroke-width="1.2"/>
<rect x="29.9" y="723.4" width="3" height="18.6" rx="0.8" fill="#17178c" stroke="#0a0a55" stroke-width="0.7"/>
<line x1="35.8" x2="35.8" y1="677.5" y2="741.3" stroke="#4a4a4a" stroke-width="1.2"/>
<rect x="34.3" y="681.7" width="3" height="59.0" rx="0.8" fill="#238023" stroke="#0d4d0d" stroke-width="0.7"/>
<line x1="40.2" x2="40.2" y1="679" y2="714.8" stroke="#4a4a4a" stroke-width="1.2"/>
<rect x="38.7" y="680.4" width="3" height="7.9" rx="0.8" fill="#17178c" stroke="#0a0a55" stroke-width="0.7"/>
<line x1="44.6" x2="44.6" y1="626" y2="705.6" stroke="#4a4a4a" stroke-width="1.2"/>
<rect x="43.1" y="641.3" width="3" height="45.7" rx="0.8" fill="#238023" stroke="#0d4d0d" stroke-width="0.7"/>
<line x1="49.1" x2="49.1" y1="607.5" y2="651.3" stroke="#4a4a4a" stroke-width="1.2"/>
<rect x="47.6" y="624.1" width="3" height="16.6" rx="0.8" fill="#238023" stroke="#0d4d0d" stroke-width="0.7"/>
<line x1="53.5" x2="53.5" y1="618.8" y2="654.6" stroke="#4a4a4a" stroke-width="1.2"/>
<rect x="52.0" y="622" width="3" height="3.4" rx="0.8" fill="#238023" stroke="#0d4d0d" stroke-width="0.7"/>
<line x1="57.9" x2="57.9" y1="608.6" y2="634.7" stroke="#4a4a4a" stroke-width="1.2"/>
<rect x="56.4" y="611.5" width="3" height="11.3" rx="0.8" fill="#238023" stroke="#0d4d0d" stroke-width="0.7"/>
<line x1="62.4" x2="62.4" y1="602.9" y2="622.8" stroke="#4a4a4a" stroke-width="1.2"/>
<rect x="60.9" y="612.2" width="3" height="5.9" rx="0.8" fill="#17178c" stroke="#0a0a55" stroke-width="0.7"/>
<line x1="66.8" x2="66.8" y1="610.9" y2="634.7" stroke="#4a4a4a" stroke-width="1.2"/>
<rect x="65.3" y="615.8" width="3" height="7.0" rx="0.8" fill="#238023" stroke="#0d4d0d" stroke-width="0.7"/>
<line x1="71.2" x2="71.2" y1="561.2" y2="631.4" stroke="#4a4a4a" stroke-width="1.2"/>
<rect x="69.7" y="587" width="3" height="29.2" rx="0.8" fill="#238023" stroke="#0d4d0d" stroke-width="0.7"/>
<line x1="75.7" x2="75.7" y1="568.5" y2="644.6" stroke="#4a4a4a" stroke-width="1.2"/>
<rect x="74.2" y="588.3" width="3" height="49.1" rx="0.8" fill="#17178c" stroke="#0a0a55" stroke-width="0.7"/>
<line x1="80.1" x2="80.1" y1="628" y2="667.2" stroke="#4a4a4a" stroke-width="1.2"/>
<rect x="78.6" y="638" width="3" height="19.9" rx="0.8" fill="#17178c" stroke="#0a0a55" stroke-width="0.7"/>
<line x1="84.5" x2="84.5" y1="637.4" y2="670.5" stroke="#4a4a4a" stroke-width="1.2"/>
<rect x="83.0" y="640.5" width="3" height="16.7" rx="0.8" fill="#238023" stroke="#0d4d0d" stroke-width="0.7"/>
<line x1="88.9" x2="88.9" y1="638" y2="721" stroke="#4a4a4a" stroke-width="1.2"/>
<rect x="87.4" y="638" width="3" height="62.0" rx="0.8" fill="#17178c" stroke="#0a0a55" stroke-width="0.7"/>
<line x1="93.4" x2="93.4" y1="660.8" y2="721" stroke="#4a4a4a" stroke-width="1.2"/>
<rect x="91.9" y="697" width="3" height="3.7" rx="0.8" fill="#238023" stroke="#0d4d0d" stroke-width="0.7"/>
<line x1="97.8" x2="97.8" y1="641.6" y2="702.4" stroke="#4a4a4a" stroke-width="1.2"/>
<rect x="96.3" y="644.9" width="3" height="39.0" rx="0.8" fill="#238023" stroke="#0d4d0d" stroke-width="0.7"/>
<line x1="102.2" x2="102.2" y1="638.3" y2="676.7" stroke="#4a4a4a" stroke-width="1.2"/>
<rect x="100.7" y="643.6" width="3" height="8.6" rx="0.8" fill="#17178c" stroke="#0a0a55" stroke-width="0.7"/>
<line x1="106.7" x2="106.7" y1="637.2" y2="682" stroke="#4a4a4a" stroke-width="1.2"/>
<rect x="105.2" y="652.2" width="3" height="22.5" rx="0.8" fill="#17178c" stroke="#0a0a55" stroke-width="0.7"/>
<line x1="111.1" x2="111.1" y1="613.1" y2="680" stroke="#4a4a4a" stroke-width="1.2"/>
<rect x="109.6" y="645.8" width="3" height="28.5" rx="0.8" fill="#238023" stroke="#0d4d0d" stroke-width="0.7"/>
<line x1="115.5" x2="115.5" y1="639.6" y2="689.2" stroke="#4a4a4a" stroke-width="1.2"/>
<rect x="114.0" y="645.8" width="3" height="36.7" rx="0.8" fill="#17178c" stroke="#0a0a55" stroke-width="0.7"/>
<line x1="120.0" x2="120.0" y1="661.5" y2="705.7" stroke="#4a4a4a" stroke-width="1.2"/>
<rect x="118.5" y="662.4" width="3" height="17.9" rx="0.8" fill="#238023" stroke="#0d4d0d" stroke-width="0.7"/>
<line x1="124.4" x2="124.4" y1="654.2" y2="689.2" stroke="#2a2a2a" stroke-width="1.2"/>
<rect x="122.7" y="665.9" width="3.4" height="1.8" fill="#111"/>
<line x1="128.8" x2="128.8" y1="661" y2="707.7" stroke="#4a4a4a" stroke-width="1.2"/>
<rect x="127.3" y="666.8" width="3" height="33.6" rx="0.8" fill="#17178c" stroke="#0a0a55" stroke-width="0.7"/>
<line x1="133.2" x2="133.2" y1="686.1" y2="720.9" stroke="#111" stroke-width="1.2"/>
<rect x="131.9" y="689.1" width="2.6" height="10.6" rx="1" fill="#57b357" stroke="#0d4d0d" stroke-width="0.9"/>
<line x1="137.7" x2="137.7" y1="650.9" y2="689.3" stroke="#4a4a4a" stroke-width="1.2"/>
<rect x="136.2" y="652.2" width="3" height="36.3" rx="0.8" fill="#238023" stroke="#0d4d0d" stroke-width="0.7"/>
<line x1="142.1" x2="142.1" y1="622.6" y2="670" stroke="#4a4a4a" stroke-width="1.2"/>
<rect x="140.6" y="634.6" width="3" height="17.6" rx="0.8" fill="#238023" stroke="#0d4d0d" stroke-width="0.7"/>
<line x1="146.5" x2="146.5" y1="613.8" y2="648.2" stroke="#4a4a4a" stroke-width="1.2"/>
<rect x="145.0" y="615.1" width="3" height="19.5" rx="0.8" fill="#238023" stroke="#0d4d0d" stroke-width="0.7"/>
<line x1="151.0" x2="151.0" y1="613.1" y2="634.6" stroke="#4a4a4a" stroke-width="1.2"/>
<rect x="149.5" y="615.1" width="3" height="15.2" rx="0.8" fill="#17178c" stroke="#0a0a55" stroke-width="0.7"/>
<line x1="155.4" x2="155.4" y1="609.5" y2="637.8" stroke="#2a2a2a" stroke-width="1.2"/>
<rect x="153.7" y="629.9" width="3.4" height="1.8" fill="#111"/>
<line x1="159.8" x2="159.8" y1="607.4" y2="640.2" stroke="#4a4a4a" stroke-width="1.2"/>
<rect x="158.3" y="625.7" width="3" height="11.8" rx="0.8" fill="#238023" stroke="#0d4d0d" stroke-width="0.7"/>
<line x1="164.3" x2="164.3" y1="619.6" y2="641.4" stroke="#2a2a2a" stroke-width="1.2"/>
<rect x="162.6" y="625.6" width="3.4" height="1.8" fill="#111"/>
<line x1="168.7" x2="168.7" y1="610.9" y2="637.4" stroke="#4a4a4a" stroke-width="1.2"/>
<rect x="167.2" y="624.8" width="3" height="4.0" rx="0.8" fill="#17178c" stroke="#0a0a55" stroke-width="0.7"/>
<line x1="173.1" x2="173.1" y1="614.2" y2="634.8" stroke="#4a4a4a" stroke-width="1.2"/>
<rect x="171.6" y="615.6" width="3" height="15.9" rx="0.8" fill="#238023" stroke="#0d4d0d" stroke-width="0.7"/>
<line x1="177.5" x2="177.5" y1="579.8" y2="622.8" stroke="#4a4a4a" stroke-width="1.2"/>
<rect x="176.0" y="601.7" width="3" height="13.2" rx="0.8" fill="#238023" stroke="#0d4d0d" stroke-width="0.7"/>
<line x1="182.0" x2="182.0" y1="576.5" y2="609.6" stroke="#4a4a4a" stroke-width="1.2"/>
<rect x="180.5" y="583.8" width="3" height="16.5" rx="0.8" fill="#238023" stroke="#0d4d0d" stroke-width="0.7"/>
<line x1="186.4" x2="186.4" y1="577.2" y2="600.3" stroke="#2a2a2a" stroke-width="1.2"/>
<rect x="184.7" y="580.2" width="3.4" height="1.8" fill="#111"/>
<line x1="190.8" x2="190.8" y1="573.8" y2="603.6" stroke="#4a4a4a" stroke-width="1.2"/>
<rect x="189.3" y="583.8" width="3" height="11.2" rx="0.8" fill="#17178c" stroke="#0a0a55" stroke-width="0.7"/>
<line x1="195.3" x2="195.3" y1="587.7" y2="608.9" stroke="#4a4a4a" stroke-width="1.2"/>
<rect x="193.8" y="595" width="3" height="7.6" rx="0.8" fill="#17178c" stroke="#0a0a55" stroke-width="0.7"/>
<line x1="199.7" x2="199.7" y1="598.3" y2="611.6" stroke="#4a4a4a" stroke-width="1.2"/>
<rect x="198.2" y="599.7" width="3" height="3.3" rx="0.8" fill="#238023" stroke="#0d4d0d" stroke-width="0.7"/>
<line x1="204.1" x2="204.1" y1="584.2" y2="609.6" stroke="#4a4a4a" stroke-width="1.2"/>
<rect x="202.6" y="598" width="3" height="3.0" rx="0.8" fill="#238023" stroke="#0d4d0d" stroke-width="0.7"/>
<line x1="208.6" x2="208.6" y1="594.4" y2="612.9" stroke="#2a2a2a" stroke-width="1.2"/>
<rect x="206.9" y="600.1" width="3.4" height="1.8" fill="#111"/>
<line x1="213.0" x2="213.0" y1="592" y2="612.5" stroke="#2a2a2a" stroke-width="1.2"/>
<rect x="211.3" y="600.1" width="3.4" height="1.8" fill="#111"/>
<polyline points="20.6,673.5 25.9,676.4 31.2,681.7 35.9,682.4 40.5,681.7 44.7,679.1 51.1,673.8 57.7,669.1 64.3,665.2 71.0,659.9 76.3,657.9 82.9,657.5 89.1,659.2 94.0,661.0 101.2,660.8 111.2,661.1 122.4,661.5 127.7,664.1 133.7,666.1 139.6,664.1 146.3,660.1 154.2,657.0 162.0,654.6 169.2,652.0 175.9,647.4 182.5,642.1 189.8,637.4 197.7,634.1 207.0,630.1 216.3,627.2 226.2,623.9" fill="none" stroke="#1a1a1a" stroke-width="1.1" stroke-linejoin="round"/>
<line x1="191" x2="238" y1="573.1" y2="573.1" stroke="#f5853f" stroke-width="2.8"/>
<line x1="213" x2="238" y1="609.6" y2="609.6" stroke="#f5853f" stroke-width="2.8"/>
<line x1="133.6" x2="238" y1="721.1" y2="721.1" stroke="#f5853f" stroke-width="2.6"/>
<text x="133.8" y="732.2" font-size="11" fill="#f5853f">A</text>
<text x="191.5" y="570.4" font-size="11" fill="#f5853f">B</text>
<path d="M217.6,615.6 V599" stroke="#1c1cf0" stroke-width="1.3" fill="none"/><path d="M215.6,601.4 L217.6,597.4 L219.6,601.4 Z" fill="#1c1cf0"/>
<path d="M222,589.7 V607" stroke="#5fe65f" stroke-width="1.6" fill="none"/><rect x="220.7" y="596" width="2.6" height="6.6" fill="#3fdc3f"/>
<path d="M226.5,594.4 V615.6" stroke="#1c1cf0" stroke-width="1.3" fill="none"/><rect x="225" y="596.6" width="3" height="8.4" rx="1.2" fill="#fff" stroke="#1c1cf0" stroke-width="1"/>
<path d="M214.3,608.3 L231,720.6 M225,713.5 L231,720.6 L234.7,713.6" fill="none" stroke="#222" stroke-width="1.1"/>
<polyline points="20.4,801.3 25.7,801.3 31.6,804.8 35.7,801.1 44.5,801.1 49.2,799.2 53.3,799.2 58.5,795.7 63.2,795.7 71.4,790.2 75.5,790.2 80.2,793.7 89.0,793.7 93.1,790.2 97.8,790.2 102.5,793.5 111.3,793.5 116.0,795.8 133.4,795.8 141.6,790.2 146.3,790.2 151.5,793.7 155.1,793.7 163.8,786.9 168.5,786.9 173.2,784.9 181.4,779.6 190.8,779.3 195.5,781.4 204.3,781.4 209.0,784.6 213.1,782.0 217.8,784.7 226.0,784.7" fill="none" stroke="#111" stroke-width="1.4" stroke-linejoin="round"/>
<text x="31.6" y="807.2" font-size="11.5" fill="#000" stroke="#000" stroke-width="0.2" textLength="97.8" lengthAdjust="spacingAndGlyphs">www.autochartist.com</text>
<rect x="19" y="814.8" width="160" height="2.1" fill="#555"/>
<rect x="176.4" y="807.9" width="72" height="15.5" fill="#7b7b7b"/>
<text x="183.2" y="821" font-size="12" fill="#fff" stroke="#fff" stroke-width="0.35" textLength="46.8" lengthAdjust="spacingAndGlyphs">1/26 06:30</text>
</svg>

<svg class="bx" style="left:500px;top:536px" width="300" height="292" viewBox="500 536 300 292" font-family="Liberation Serif, serif">
<line x1="523.5" x2="733" y1="570.9" y2="570.9" stroke="#c9c9c9" stroke-width="1" stroke-dasharray="3.2,1.6"/>
<line x1="523.5" x2="733" y1="595.3" y2="595.3" stroke="#c9c9c9" stroke-width="1" stroke-dasharray="3.2,1.6"/>
<line x1="523.5" x2="733" y1="619.8" y2="619.8" stroke="#c9c9c9" stroke-width="1" stroke-dasharray="3.2,1.6"/>
<line x1="523.5" x2="733" y1="644.2" y2="644.2" stroke="#c9c9c9" stroke-width="1" stroke-dasharray="3.2,1.6"/>
<line x1="523.5" x2="733" y1="668.6" y2="668.6" stroke="#c9c9c9" stroke-width="1" stroke-dasharray="3.2,1.6"/>
<line x1="523.5" x2="733" y1="693.1" y2="693.1" stroke="#c9c9c9" stroke-width="1" stroke-dasharray="3.2,1.6"/>
<line x1="523.5" x2="733" y1="717.5" y2="717.5" stroke="#c9c9c9" stroke-width="1" stroke-dasharray="3.2,1.6"/>
<line x1="523.5" x2="733" y1="742.0" y2="742.0" stroke="#c9c9c9" stroke-width="1" stroke-dasharray="3.2,1.6"/>
<line x1="523.5" x2="733" y1="780.2" y2="780.2" stroke="#c4c4c4" stroke-width="1" stroke-dasharray="3.2,1.6"/>
<line x1="523.5" x2="733" y1="800.2" y2="800.2" stroke="#c4c4c4" stroke-width="1" stroke-dasharray="3.2,1.6"/>
<line x1="705.2" x2="705.2" y1="546" y2="808" stroke="#a8a8a8" stroke-width="1.3" stroke-dasharray="3.2,2"/>
<path d="M738.2,546.3 H733.2 V761.3 M733.2,767.3 V808" fill="none" stroke="#3a3a3a" stroke-width="1.3"/>
<line x1="733.2" x2="738.4" y1="546.4" y2="546.4" stroke="#333" stroke-width="1.6"/>
<text x="740.2" y="550.7" font-size="11" fill="#111" stroke="#111" stroke-width="0.15" textLength="40.5" lengthAdjust="spacingAndGlyphs">116.6546</text>
<line x1="733.2" x2="738.4" y1="570.9" y2="570.9" stroke="#333" stroke-width="1.6"/>
<text x="740.2" y="575.1" font-size="11" fill="#111" stroke="#111" stroke-width="0.15" textLength="40.5" lengthAdjust="spacingAndGlyphs">116.1546</text>
<line x1="733.2" x2="738.4" y1="595.3" y2="595.3" stroke="#333" stroke-width="1.6"/>
<text x="740.2" y="599.6" font-size="11" fill="#111" stroke="#111" stroke-width="0.15" textLength="40.5" lengthAdjust="spacingAndGlyphs">115.6546</text>
<line x1="733.2" x2="738.4" y1="619.8" y2="619.8" stroke="#333" stroke-width="1.6"/>
<text x="740.2" y="624.0" font-size="11" fill="#111" stroke="#111" stroke-width="0.15" textLength="40.5" lengthAdjust="spacingAndGlyphs">115.1546</text>
<line x1="733.2" x2="738.4" y1="644.2" y2="644.2" stroke="#333" stroke-width="1.6"/>
<text x="740.2" y="648.5" font-size="11" fill="#111" stroke="#111" stroke-width="0.15" textLength="40.5" lengthAdjust="spacingAndGlyphs">114.6546</text>
<line x1="733.2" x2="738.4" y1="668.6" y2="668.6" stroke="#333" stroke-width="1.6"/>
<text x="740.2" y="672.9" font-size="11" fill="#111" stroke="#111" stroke-width="0.15" textLength="40.5" lengthAdjust="spacingAndGlyphs">114.1546</text>
<line x1="733.2" x2="738.4" y1="693.1" y2="693.1" stroke="#333" stroke-width="1.6"/>
<text x="740.2" y="697.4" font-size="11" fill="#111" stroke="#111" stroke-width="0.15" textLength="40.5" lengthAdjust="spacingAndGlyphs">113.6546</text>
<line x1="733.2" x2="738.4" y1="717.5" y2="717.5" stroke="#333" stroke-width="1.6"/>
<text x="740.2" y="721.8" font-size="11" fill="#111" stroke="#111" stroke-width="0.15" textLength="40.5" lengthAdjust="spacingAndGlyphs">113.1546</text>
<line x1="733.2" x2="738.4" y1="742.0" y2="742.0" stroke="#333" stroke-width="1.6"/>
<text x="740.2" y="746.3" font-size="11" fill="#111" stroke="#111" stroke-width="0.15" textLength="40.5" lengthAdjust="spacingAndGlyphs">112.6546</text>
<line x1="733.2" x2="738.4" y1="780" y2="780" stroke="#333" stroke-width="1.6"/>
<text x="740.2" y="784.3" font-size="11" fill="#111" stroke="#111" stroke-width="0.15" textLength="10.2" lengthAdjust="spacingAndGlyphs">60</text>
<line x1="733.2" x2="738.4" y1="800.3" y2="800.3" stroke="#333" stroke-width="1.6"/>
<text x="740.2" y="804.6" font-size="11" fill="#111" stroke="#111" stroke-width="0.15" textLength="10.2" lengthAdjust="spacingAndGlyphs">40</text>
<text transform="translate(771,800.8) rotate(-90)" font-size="11" fill="#111" stroke="#111" stroke-width="0.15" textLength="18.4" lengthAdjust="spacingAndGlyphs">RSI</text>
<line x1="531.6" y1="555.8" x2="705" y2="685.3" stroke="#29e629" stroke-width="2.9"/>
<line x1="531.2" y1="748" x2="705" y2="750.4" stroke="#2a1ae8" stroke-width="2.2"/>
<line x1="523.8" x2="523.8" y1="698.8" y2="727.8" stroke="#333" stroke-width="0.9"/>
<line x1="526.6" x2="526.6" y1="720.4" y2="744.7" stroke="#4a4a4a" stroke-width="1.2"/>
<rect x="525.1" y="727.8" width="3" height="14.9" rx="0.8" fill="#17178c" stroke="#0a0a55" stroke-width="0.7"/>
<line x1="531.2" x2="531.2" y1="726.2" y2="748.5" stroke="#4a4a4a" stroke-width="1.2"/>
<rect x="529.7" y="740.2" width="3" height="2.5" rx="0.8" fill="#238023" stroke="#0d4d0d" stroke-width="0.7"/>
<line x1="535.7" x2="535.7" y1="718.2" y2="743.5" stroke="#4a4a4a" stroke-width="1.2"/>
<rect x="534.2" y="723.7" width="3" height="17.3" rx="0.8" fill="#238023" stroke="#0d4d0d" stroke-width="0.7"/>
<line x1="541.2" x2="541.2" y1="703.8" y2="726.2" stroke="#4a4a4a" stroke-width="1.2"/>
<rect x="539.7" y="709.3" width="3" height="14.7" rx="0.8" fill="#238023" stroke="#0d4d0d" stroke-width="0.7"/>
<line x1="545.6" x2="545.6" y1="700.5" y2="719.5" stroke="#4a4a4a" stroke-width="1.2"/>
<rect x="544.1" y="701.3" width="3" height="7.5" rx="0.8" fill="#238023" stroke="#0d4d0d" stroke-width="0.7"/>
<line x1="550" x2="550" y1="693.9" y2="717" stroke="#4a4a4a" stroke-width="1.2"/>
<rect x="548.5" y="702.2" width="3" height="4.9" rx="0.8" fill="#17178c" stroke="#0a0a55" stroke-width="0.7"/>
<line x1="554.4" x2="554.4" y1="656.8" y2="709.3" stroke="#4a4a4a" stroke-width="1.2"/>
<rect x="552.9" y="661.7" width="3" height="46.2" rx="0.8" fill="#238023" stroke="#0d4d0d" stroke-width="0.7"/>
<line x1="560.2" x2="560.2" y1="632.7" y2="662.5" stroke="#4a4a4a" stroke-width="1.2"/>
<rect x="558.7" y="636.9" width="3" height="24.8" rx="0.8" fill="#238023" stroke="#0d4d0d" stroke-width="0.7"/>
<line x1="564.9" x2="564.9" y1="632.7" y2="654.3" stroke="#4a4a4a" stroke-width="1.2"/>
<rect x="563.4" y="636.9" width="3" height="14.9" rx="0.8" fill="#17178c" stroke="#0a0a55" stroke-width="0.7"/>
<line x1="568.8" x2="568.8" y1="628.3" y2="653.4" stroke="#4a4a4a" stroke-width="1.2"/>
<rect x="567.3" y="644.8" width="3" height="7.0" rx="0.8" fill="#238023" stroke="#0d4d0d" stroke-width="0.7"/>
<line x1="573.1" x2="573.1" y1="638" y2="656.8" stroke="#4a4a4a" stroke-width="1.2"/>
<rect x="571.6" y="644.8" width="3" height="3.7" rx="0.8" fill="#17178c" stroke="#0a0a55" stroke-width="0.7"/>
<line x1="578.9" x2="578.9" y1="601.8" y2="651.5" stroke="#4a4a4a" stroke-width="1.2"/>
<rect x="577.4" y="612.5" width="3" height="36.0" rx="0.8" fill="#238023" stroke="#0d4d0d" stroke-width="0.7"/>
<line x1="583.4" x2="583.4" y1="596.3" y2="643.8" stroke="#4a4a4a" stroke-width="1.2"/>
<rect x="581.9" y="612.5" width="3" height="25.2" rx="0.8" fill="#17178c" stroke="#0a0a55" stroke-width="0.7"/>
<line x1="587.5" x2="587.5" y1="621.2" y2="637.7" stroke="#4a4a4a" stroke-width="1.2"/>
<rect x="586.0" y="622" width="3" height="15.4" rx="0.8" fill="#238023" stroke="#0d4d0d" stroke-width="0.7"/>
<line x1="592" x2="592" y1="622" y2="650.5" stroke="#4a4a4a" stroke-width="1.2"/>
<rect x="590.5" y="622.5" width="3" height="18.2" rx="0.8" fill="#17178c" stroke="#0a0a55" stroke-width="0.7"/>
<line x1="597.8" x2="597.8" y1="627.3" y2="649" stroke="#4a4a4a" stroke-width="1.2"/>
<rect x="596.3" y="628.3" width="3" height="12.4" rx="0.8" fill="#238023" stroke="#0d4d0d" stroke-width="0.7"/>
<line x1="602.1" x2="602.1" y1="609.6" y2="635.7" stroke="#4a4a4a" stroke-width="1.2"/>
<rect x="600.6" y="614.9" width="3" height="12.4" rx="0.8" fill="#238023" stroke="#0d4d0d" stroke-width="0.7"/>
<line x1="606.6" x2="606.6" y1="614.2" y2="636.9" stroke="#4a4a4a" stroke-width="1.2"/>
<rect x="605.1" y="614.9" width="3" height="10.4" rx="0.8" fill="#17178c" stroke="#0a0a55" stroke-width="0.7"/>
<line x1="611" x2="611" y1="617.4" y2="665.5" stroke="#4a4a4a" stroke-width="1.2"/>
<rect x="609.5" y="625" width="3" height="27.5" rx="0.8" fill="#17178c" stroke="#0a0a55" stroke-width="0.7"/>
<line x1="616.6" x2="616.6" y1="645.5" y2="653.4" stroke="#4a4a4a" stroke-width="1.2"/>
<rect x="615.1" y="647.4" width="3" height="5.0" rx="0.8" fill="#238023" stroke="#0d4d0d" stroke-width="0.7"/>
<line x1="620.9" x2="620.9" y1="656.8" y2="690.4" stroke="#4a4a4a" stroke-width="1.2"/>
<rect x="619.4" y="661.4" width="3" height="20.2" rx="0.8" fill="#17178c" stroke="#0a0a55" stroke-width="0.7"/>
<line x1="625.4" x2="625.4" y1="677.6" y2="702.8" stroke="#4a4a4a" stroke-width="1.2"/>
<rect x="623.9" y="681.6" width="3" height="7.6" rx="0.8" fill="#17178c" stroke="#0a0a55" stroke-width="0.7"/>
<line x1="629.5" x2="629.5" y1="688.2" y2="716.5" stroke="#4a4a4a" stroke-width="1.2"/>
<rect x="628.0" y="689.2" width="3" height="4.5" rx="0.8" fill="#17178c" stroke="#0a0a55" stroke-width="0.7"/>
<line x1="635" x2="635" y1="689.5" y2="707.7" stroke="#4a4a4a" stroke-width="1.2"/>
<rect x="633.5" y="690.4" width="3" height="15.7" rx="0.8" fill="#17178c" stroke="#0a0a55" stroke-width="0.7"/>
<line x1="639.8" x2="639.8" y1="673.3" y2="737.5" stroke="#4a4a4a" stroke-width="1.2"/>
<rect x="638.3" y="706.1" width="3" height="24.0" rx="0.8" fill="#17178c" stroke="#0a0a55" stroke-width="0.7"/>
<line x1="644.1" x2="644.1" y1="714" y2="736.7" stroke="#4a4a4a" stroke-width="1.2"/>
<rect x="642.6" y="718.5" width="3" height="11.6" rx="0.8" fill="#238023" stroke="#0d4d0d" stroke-width="0.7"/>
<line x1="648.6" x2="648.6" y1="717.5" y2="749.1" stroke="#4a4a4a" stroke-width="1.2"/>
<rect x="647.1" y="718.2" width="3" height="18.5" rx="0.8" fill="#17178c" stroke="#0a0a55" stroke-width="0.7"/>
<line x1="654.4" x2="654.4" y1="720.2" y2="748.3" stroke="#4a4a4a" stroke-width="1.2"/>
<rect x="652.9" y="726" width="3" height="10.7" rx="0.8" fill="#238023" stroke="#0d4d0d" stroke-width="0.7"/>
<line x1="658.5" x2="658.5" y1="704.4" y2="735.9" stroke="#4a4a4a" stroke-width="1.2"/>
<rect x="657.0" y="714" width="3" height="12.8" rx="0.8" fill="#238023" stroke="#0d4d0d" stroke-width="0.7"/>
<line x1="663" x2="663" y1="703.3" y2="717.7" stroke="#4a4a4a" stroke-width="1.2"/>
<rect x="661.5" y="708.6" width="3" height="5.8" rx="0.8" fill="#238023" stroke="#0d4d0d" stroke-width="0.7"/>
<line x1="667.6" x2="667.6" y1="695.3" y2="729.3" stroke="#4a4a4a" stroke-width="1.2"/>
<rect x="666.1" y="695.8" width="3" height="11.6" rx="0.8" fill="#238023" stroke="#0d4d0d" stroke-width="0.7"/>
<line x1="673.1" x2="673.1" y1="681.6" y2="702.3" stroke="#4a4a4a" stroke-width="1.2"/>
<rect x="671.6" y="688.2" width="3" height="7.1" rx="0.8" fill="#238023" stroke="#0d4d0d" stroke-width="0.7"/>
<line x1="677.5" x2="677.5" y1="677.6" y2="692" stroke="#4a4a4a" stroke-width="1.2"/>
<rect x="676.0" y="687" width="3" height="3.9" rx="0.8" fill="#17178c" stroke="#0a0a55" stroke-width="0.7"/>
<line x1="682" x2="682" y1="685.4" y2="706.1" stroke="#4a4a4a" stroke-width="1.2"/>
<rect x="680.5" y="691.5" width="3" height="6.6" rx="0.8" fill="#17178c" stroke="#0a0a55" stroke-width="0.7"/>
<line x1="686.3" x2="686.3" y1="687.5" y2="704.4" stroke="#4a4a4a" stroke-width="1.2"/>
<rect x="684.8" y="692.8" width="3" height="5.0" rx="0.8" fill="#238023" stroke="#0d4d0d" stroke-width="0.7"/>
<line x1="692.1" x2="692.1" y1="686.2" y2="723.5" stroke="#4a4a4a" stroke-width="1.2"/>
<rect x="690.6" y="692.8" width="3" height="16.6" rx="0.8" fill="#17178c" stroke="#0a0a55" stroke-width="0.7"/>
<line x1="696.6" x2="696.6" y1="681.6" y2="712.7" stroke="#4a4a4a" stroke-width="1.2"/>
<rect x="695.1" y="697.5" width="3" height="11.9" rx="0.8" fill="#238023" stroke="#0d4d0d" stroke-width="0.7"/>
<line x1="701" x2="701" y1="685.4" y2="715.2" stroke="#4a4a4a" stroke-width="1.2"/>
<rect x="699.5" y="696.2" width="3" height="18.5" rx="0.8" fill="#17178c" stroke="#0a0a55" stroke-width="0.7"/>
<line x1="705.7" x2="705.7" y1="704.4" y2="721" stroke="#4a4a4a" stroke-width="1.2"/>
<rect x="704.2" y="715.2" width="3" height="4.1" rx="0.8" fill="#2a2a66" stroke="#222" stroke-width="0.7"/>
<polyline points="523.8,653.4 529.6,661.7 536.2,667.5 542.8,670.8 549.5,672.8 554.4,672.2 564.4,668.3 574.3,665.0 584.2,660.9 590.8,658.9 597.5,657.3 602.4,654.3 608.2,652.9 617.9,653.1 626.2,656.1 635.3,660.6 641.1,665.5 649.4,672.2 657.7,677.1 665.9,680.4 674.2,680.9 682.5,682.1 694.1,684.6 705.7,687.5 714.8,690.4" fill="none" stroke="#1a1a1a" stroke-width="1.1" stroke-linejoin="round"/>
<line x1="700.7" x2="725" y1="682.9" y2="682.9" stroke="#f5853f" stroke-width="2.4"/>
<line x1="705.7" x2="725" y1="723.7" y2="723.7" stroke="#f5853f" stroke-width="2.4"/>
<line x1="648.6" x2="725" y1="748.8" y2="748.8" stroke="#f5853f" stroke-width="2.2"/>
<text x="649.3" y="759.9" font-size="11" fill="#f5853f">A</text>
<text x="701" y="680.5" font-size="11" fill="#f5853f">B</text>
<path d="M710.6,702.8 V721" stroke="#44e044" stroke-width="1.3" fill="none"/><rect x="709.2" y="713.6" width="2.8" height="6.4" rx="1.2" fill="#fff" stroke="#44e044" stroke-width="1"/>
<path d="M715.3,705.3 V714.7" stroke="#44e044" stroke-width="1.3" fill="none"/><path d="M715.3,708.2 L716.9,710.7 L715.3,713.1 L713.7,710.7 Z" fill="#fff" stroke="#44e044" stroke-width="0.9"/>
<path d="M705.7,719.5 L719.3,748.2 M720.3,739.2 L719.3,748.2 L712.3,744.5" fill="none" stroke="#3a3a3a" stroke-width="1.4"/>
<polyline points="523.3,802.3 526.8,804.8 530.9,804.6 535.6,800.7 542.6,798.6 549.6,800.7 556.7,798.8 564.3,800.7 569.6,799.2 573.1,798.8 578.9,795.8 610.6,795.8 615.9,792.5 621.1,796.1 648.5,796.1 653.8,792.5 659.1,792.5 667.8,786.7 673.1,784.7 678.4,787.0 681.3,787.0 686.6,784.7 691.9,786.7 696.0,786.9 700.7,790.2 705.1,792.5 710.0,790.4 715.0,790.2" fill="none" stroke="#111" stroke-width="1.4" stroke-linejoin="round"/>
<text x="534.4" y="807.2" font-size="11.5" fill="#000" stroke="#000" stroke-width="0.2" textLength="97.9" lengthAdjust="spacingAndGlyphs">www.autochartist.com</text>
<rect x="522" y="814.8" width="148" height="2.1" fill="#555"/>
<rect x="668.2" y="807.9" width="71.7" height="15.5" fill="#7b7b7b"/>
<text x="674.9" y="821" font-size="12" fill="#fff" stroke="#fff" stroke-width="0.35" textLength="46.9" lengthAdjust="spacingAndGlyphs">1/26 03:00</text>
</svg>

</body></html>
